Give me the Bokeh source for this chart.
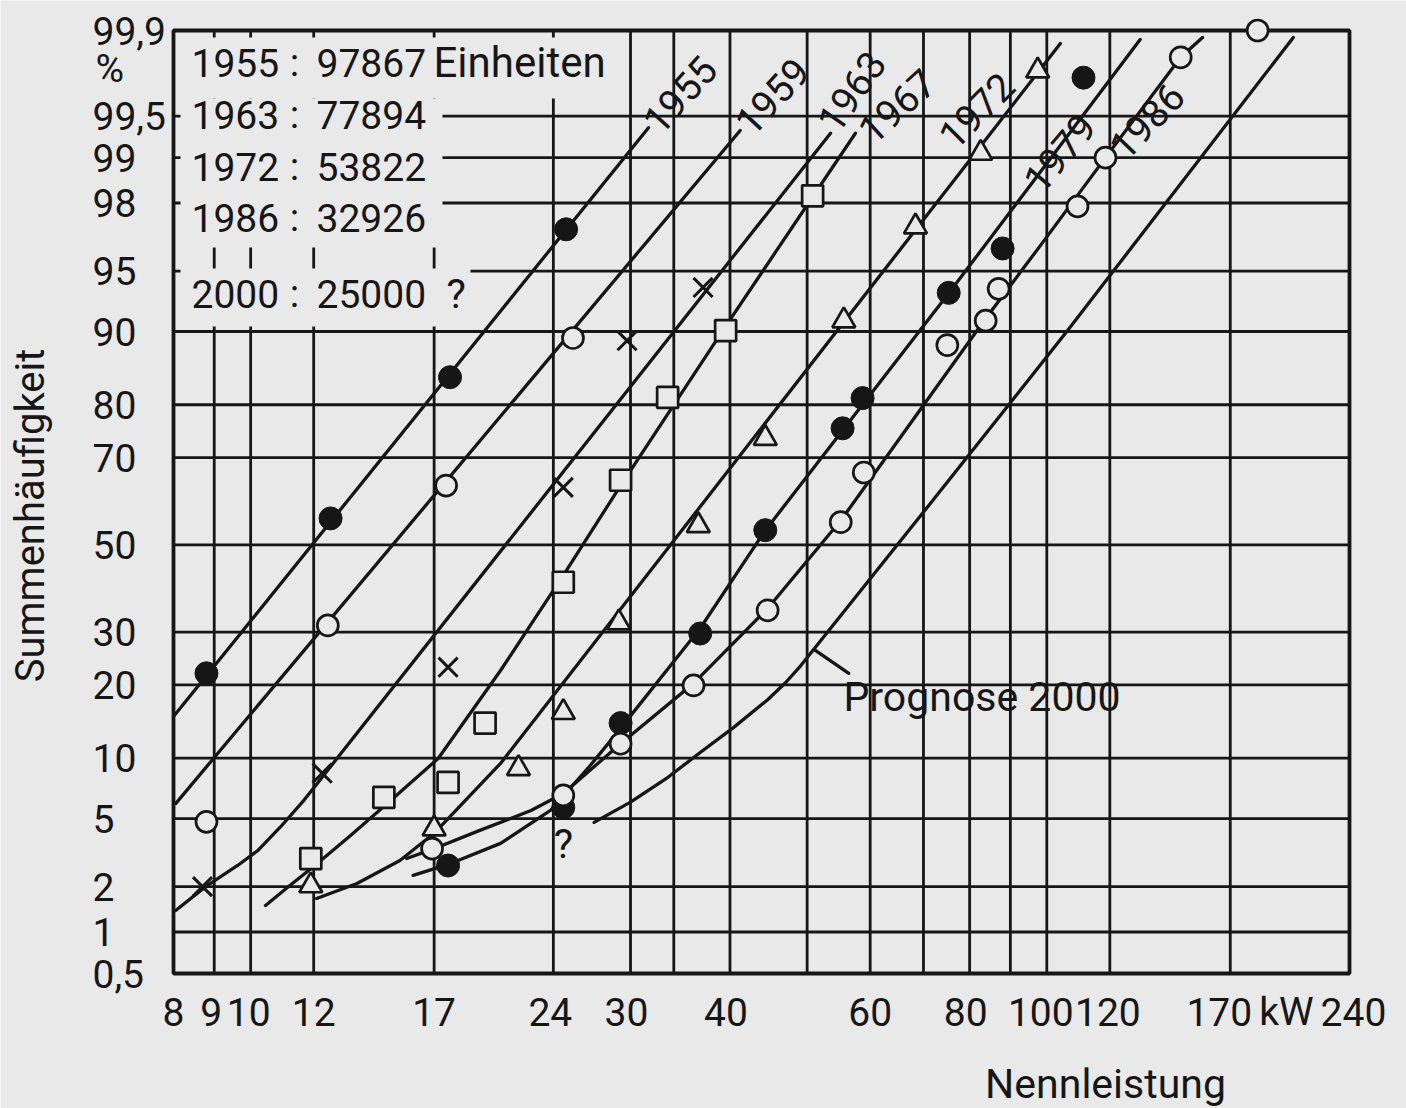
import math
from statistics import NormalDist
from bokeh.plotting import figure
from bokeh.models import Range1d, Label
from bokeh.embed import file_html
from bokeh.resources import INLINE

_nd = NormalDist()


def probit(pct):
    return _nd.inv_cdf(pct / 100.0)


# ---------------- data (kW, cumulative %) ----------------
x_tick_values = [8, 9, 10, 12, 17, 24, 30, 40, 60, 80, 100, 120, 170, 240]
x_grid_values = [9, 10, 12, 17, 24, 30, 34, 40, 50, 60, 70, 80, 90, 100, 120, 170]
y_tick_values = [0.5, 1, 2, 5, 10, 20, 30, 50, 70, 80, 90, 95, 98, 99, 99.5, 99.9]
y_tick_labels = ["0,5", "1", "2", "5", "10", "20", "30", "50", "70", "80", "90",
                 "95", "98", "99", "99,5", "99,9"]

legend_years = ["1955", "1963", "1972", "1986", "2000"]
legend_units = ["97867", "77894", "53822", "32926", "25000"]

kw_1955_line = [8.0, 31.6]
pct_1955_line = [15.1, 99.39]
kw_1955_pts = [8.8, 12.6, 17.8, 24.9]
pct_1955_pts = [22.0, 56.3, 84.3, 97.1]

kw_1959_line = [8.05, 41.2]
pct_1959_line = [6.0, 99.36]
kw_1959_pts = [8.8, 12.5, 17.6, 25.4]
pct_1959_pts = [4.8, 31.4, 63.9, 89.3]

kw_1963_line = [8.05, 8.78, 9.1, 9.63, 10.2, 10.9, 11.65, 12.0, 53.5]
pct_1963_line = [1.4, 2.0, 2.25, 2.7, 3.3, 4.5, 6.2, 7.2, 99.33]
kw_1963_pts = [8.7, 12.3, 17.7, 24.7, 29.7, 37.0]
pct_1963_pts = [2.0, 8.5, 23.1, 63.5, 89.0, 93.9]

kw_1967_line = [10.44, 11.2, 12.0, 13.35, 14.7, 17.2, 20.6, 24.7, 29.15, 39.7, 57.5]
pct_1967_line = [1.51, 2.03, 2.66, 4.04, 5.8, 9.96, 22.5, 42.7, 63.9, 90.8, 99.33]
kw_1967_pts = [11.9, 14.7, 17.7, 19.7, 24.7, 29.15, 33.4, 39.5, 50.8]
pct_1967_pts = [2.97, 6.45, 7.67, 14.2, 41.1, 65.1, 81.2, 90.1, 98.2]

kw_1972_line = [12.1, 13.6, 15.4, 17.0, 20.6, 104.0]
pct_1972_line = [1.68, 2.09, 2.89, 4.15, 9.45, 99.87]
kw_1972_pts = [11.9, 17.0, 21.7, 24.7, 29.0, 36.5, 44.3, 55.6, 68.4, 82.6, 97.4]
pct_1972_pts = [2.03, 4.4, 8.95, 15.7, 32.0, 54.6, 73.9, 91.1, 97.2, 99.07, 99.78]

kw_1979_line = [16.0, 17.7, 20.6, 23.8, 26.7, 29.15, 36.7, 44.3, 75.3, 131.0]
pct_1979_line = [2.35, 2.74, 3.64, 5.52, 9.24, 13.5, 30.8, 53.45, 93.46, 99.88]
kw_1979_pts = [17.7, 24.7, 29.15, 36.7, 44.3, 55.4, 58.7, 75.3, 88.0, 111.2]
pct_1979_pts = [2.70, 5.73, 14.2, 29.7, 53.5, 75.8, 81.1, 93.5, 96.25, 99.75]

kw_1986_line = [15.7, 16.9, 19.4, 22.5, 24.7, 29.15, 36.0, 44.6, 55.1, 65.5, 83.8,
                98.2, 118.5, 147.3, 156.9]
pct_1986_line = [2.97, 3.36, 4.31, 5.52, 6.76, 11.6, 20.25, 35.1, 55.8, 74.1, 91.3,
                 96.4, 99.0, 99.83, 99.885]
kw_1986_pts = [16.9, 24.7, 29.15, 36.0, 44.6, 55.1, 58.9, 75.0, 83.8, 87.0, 109.3,
               118.5, 147.3, 184.0]
pct_1986_pts = [3.40, 6.61, 11.6, 19.9, 34.7, 55.4, 66.8, 88.5, 91.1, 93.8, 97.9,
                99.0, 99.83, 99.9]

kw_2000_line = [27.0, 30.0, 33.4, 36.7, 40.4, 44.6, 47.0, 49.1, 71.4, 106.2, 204.0]
pct_2000_line = [4.77, 6.1, 8.1, 10.6, 13.6, 17.6, 20.4, 23.4, 59.8, 90.1, 99.885]

prognose_leader_kw = [51.2, 56.4]
prognose_leader_pct = [26.3, 22.0]

# ---------------- style / layout ----------------
INK = "#161616"
BG = "#e9e9e9"
FONT = "Roboto"
NUM_SIZE = "39px"
WORD_SIZE = "41px"
LINE_W = 3.3
GRID_W = 2.8

FIG_W, FIG_H = 1406, 1108
FL, FR, FT, FB = 173, 1349, 30, 973   # plot-frame edges in canvas pixels

X0, X1 = x_tick_values[0], x_tick_values[-1]
Y0, Y1 = probit(y_tick_values[0]), probit(y_tick_values[-1])


def fx(px):
    return X0 * (X1 / X0) ** ((px - FL) / (FR - FL))


def fy(py):
    return Y0 + (FB - py) / (FB - FT) * (Y1 - Y0)


p = figure(width=FIG_W, height=FIG_H, x_axis_type="log",
           x_range=Range1d(fx(0), fx(FIG_W)), y_range=Range1d(fy(FIG_H), fy(0)),
           output_backend="svg", toolbar_location=None, min_border=0)
p.background_fill_color = BG
p.border_fill_color = BG
p.outline_line_color = None
p.xaxis.visible = False
p.yaxis.visible = False
p.grid.visible = False

# grid of the probability paper
ny = [probit(v) for v in y_tick_values[1:-1]]
p.segment(x0=x_grid_values, y0=[Y0] * len(x_grid_values),
          x1=x_grid_values, y1=[Y1] * len(x_grid_values),
          line_color=INK, line_width=GRID_W)
p.segment(x0=[X0] * len(ny), y0=ny, x1=[X1] * len(ny), y1=ny,
          line_color=INK, line_width=GRID_W)

# blank paper behind the legend block
for (l, r, t, b) in [(180, 622, 37, 98), (180, 442, 98, 247), (180, 470, 268, 326)]:
    p.quad(left=fx(l), right=fx(r), top=fy(t), bottom=fy(b),
           fill_color=BG, line_color=None)

# frame
p.quad(left=X0, right=X1, bottom=Y0, top=Y1, fill_color=None,
       line_color=INK, line_width=3.8)

# curves
for kw, pct in [(kw_1955_line, pct_1955_line), (kw_1959_line, pct_1959_line),
                (kw_1963_line, pct_1963_line), (kw_1967_line, pct_1967_line),
                (kw_1972_line, pct_1972_line), (kw_1979_line, pct_1979_line),
                (kw_1986_line, pct_1986_line), (kw_2000_line, pct_2000_line),
                (prognose_leader_kw, prognose_leader_pct)]:
    p.line(kw, [probit(v) for v in pct], line_color=INK, line_width=LINE_W,
           line_join="round", line_cap="round")


def pts(pct):
    return [probit(v) for v in pct]


p.scatter(kw_1955_pts, pts(pct_1955_pts), marker="circle", size=23,
          fill_color=INK, line_color=INK)
p.scatter(kw_1979_pts, pts(pct_1979_pts), marker="circle", size=23,
          fill_color=INK, line_color=INK)
p.scatter(kw_1959_pts, pts(pct_1959_pts), marker="circle", size=21,
          fill_color=BG, line_color=INK, line_width=2.7)
p.scatter(kw_1986_pts, pts(pct_1986_pts), marker="circle", size=21,
          fill_color=BG, line_color=INK, line_width=2.7)
p.scatter(kw_1963_pts, pts(pct_1963_pts), marker="x", size=27,
          line_color=INK, line_width=3)
p.scatter(kw_1967_pts, pts(pct_1967_pts), marker="square", size=21,
          fill_color=BG, line_color=INK, line_width=2.7)
p.scatter(kw_1972_pts, pts(pct_1972_pts), marker="triangle", size=23,
          fill_color=BG, line_color=INK, line_width=2.7)


def label_data(text, x, y, size=NUM_SIZE, align="left", baseline="middle",
               angle_deg=0.0, bg=None, pad=0, alpha=1.0, dx=0):
    lbl = Label(x=x, y=y, text=text, text_font=FONT, text_font_size=size,
                text_color=INK, text_alpha=alpha, text_align=align,
                text_baseline=baseline, angle=math.radians(angle_deg),
                x_offset=dx)
    if bg is not None:
        lbl.background_fill_color = bg
        lbl.padding = pad
    p.add_layout(lbl)


def label_px(text, px, py, **kw):
    label_data(text, fx(px), fy(py), **kw)


year_labels = [("1955", 650, 127, 48, "left", 3), ("1959", 742, 128, 47, "left", 3),
               ("1963", 826, 127, 55, "left", 1), ("1967", 864, 135, 42, "left", 1),
               ("1972", 976, 110, 45, "center", 0), ("1979", 1031, 186, 50, "left", 3),
               ("1986", 1116, 152, 46, "left", 3)]
# paper-coloured boxes first, then the text on top of all of them
for t, x, y, a, al, pad in year_labels:
    label_px(t, x, y, align=al, angle_deg=a, bg=BG, pad=pad, alpha=0.0)
label_px("Prognose 2000", 843, 696, size=WORD_SIZE, bg=BG, pad=6, alpha=0.0)
for t, x, y, a, al, pad in year_labels:
    label_px(t, x, y, align=al, angle_deg=a)
label_px("Prognose 2000", 843, 696, size=WORD_SIZE)
label_px("?", 563, 843, size=WORD_SIZE, align="center")

# legend block
row_y = [62, 114, 166, 217, 293]
for yr, n, ry in zip(legend_years, legend_units, row_y):
    label_px(yr, 191, ry)
    label_px(":", 294, ry, align="center")
    label_px(n, 316, ry)
label_px("Einheiten", 433, row_y[0], size="42px")
label_px("?", 446, row_y[4], size=WORD_SIZE)

# y tick labels (left aligned, as in the original)
for v, s in zip(y_tick_values, y_tick_labels):
    label_data(s, fx(92), probit(v))
label_px("%", 95, 68)

# x tick labels, nudged slightly where the original spaces them apart
x_nudge = {9: -3, 10: -2, 24: -3, 30: -4, 40: -4, 80: -4, 100: -6, 120: -2, 170: -11, 240: 4}
for v in x_tick_values:
    label_data(str(v), v, fy(1011), align="center", dx=x_nudge.get(v, 0))
label_px("kW", 1286, 1011, align="center")

label_px("Nennleistung", 1105, 1083, size=WORD_SIZE, align="center")
label_px("Summenhäufigkeit", 30, 515, size="40px", align="center", angle_deg=90)

open("out.html", "w").write(file_html(p, INLINE))
